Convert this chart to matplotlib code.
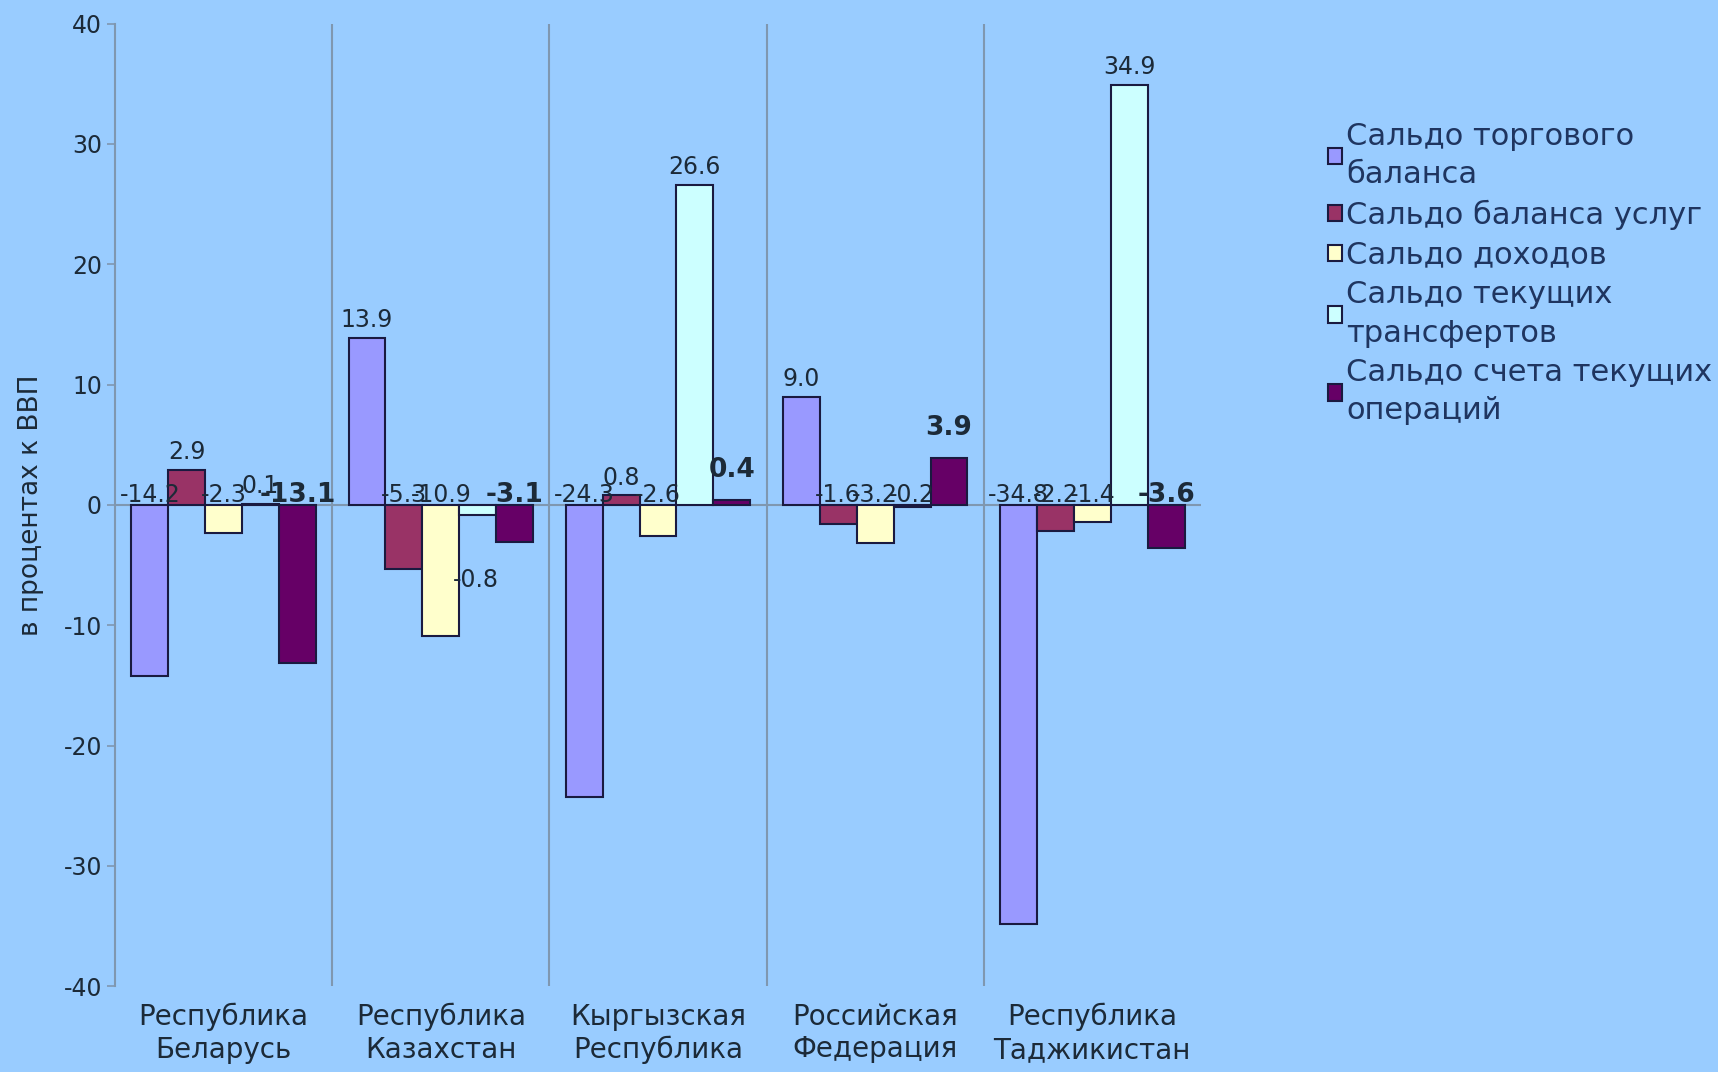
import numpy as np
import matplotlib.pyplot as plt

plt.rcParams['axes.unicode_minus'] = False

# Data
countries = ['Республика\nБеларусь', 'Республика\nКазахстан', 'Кыргызская\nРеспублика',
             'Российская\nФедерация', 'Республика\nТаджикистан']
series_names = ['Сальдо торгового\nбаланса', 'Сальдо баланса услуг', 'Сальдо доходов',
                'Сальдо текущих\nтрансфертов', 'Сальдо счета текущих\nопераций']
trade = [-14.2, 13.9, -24.3, 9.0, -34.8]
services = [2.9, -5.3, 0.8, -1.6, -2.2]
income = [-2.3, -10.9, -2.6, -3.2, -1.4]
transfers = [0.1, -0.8, 26.6, -0.2, 34.9]
current = [-13.1, -3.1, 0.4, 3.9, -3.6]

colors = ['#9999FF', '#993366', '#FFFFCC', '#CCFFFF', '#660066']
bg = '#99CCFF'
txtc = '#1c2a38'

fig = plt.figure(figsize=(17.18, 10.72), dpi=100, facecolor=bg)
ax = fig.add_axes([0.067, 0.080, 0.632, 0.898])
ax.set_facecolor(bg)

x = np.arange(len(countries))
w = 0.17
allvals = [trade, services, income, transfers, current]
handles = []
for k, vals in enumerate(allvals):
    pos = x + (k - 2) * w
    b = ax.bar(pos, vals, w, color=colors[k], edgecolor='#1a1a40', linewidth=1.5,
               label=series_names[k], zorder=3)
    handles.append(b)
    bold = (k == 4)
    fs = 19 if bold else 17
    fw = 'bold' if bold else 'normal'
    for i, (p, v) in enumerate(zip(pos, vals)):
        txt = '%.1f' % v
        if v >= 0:
            ax.annotate(txt, (p, v), xytext=(0, 12 if bold else 4), textcoords='offset points',
                        ha='center', va='bottom', fontsize=fs, fontweight=fw,
                        color=txtc, zorder=5)
        else:
            yl = 0.8
            if k == 3 and i == 1:
                yl = -6.2
                p = p - 0.01
            ax.text(p, yl, txt, ha='center', va='center', fontsize=fs, fontweight=fw,
                    color=txtc, zorder=5)

ax.set_xlim(-0.5, len(countries) - 0.5)
ax.set_ylim(-40, 40)
ax.set_yticks(np.arange(-40, 41, 10))
ax.tick_params(axis='y', labelsize=17, colors='#7f97b0', labelcolor=txtc, length=6, width=1.2)
ax.set_xticks(x)
ax.set_xticklabels(countries, fontsize=20, color=txtc, linespacing=1.2)
ax.tick_params(axis='x', length=0, pad=12)

for s in ['top', 'right', 'bottom']:
    ax.spines[s].set_visible(False)
ax.spines['left'].set_color('#7f97b0')
ax.spines['left'].set_linewidth(1.5)

ax.axhline(0, color='#7f97b0', linewidth=1.5, zorder=2)
for xb in np.arange(0.5, len(countries) - 1, 1.0):
    ax.axvline(xb, color='#7f97b0', linewidth=1.5, zorder=1)

ax.set_ylabel('в процентах к ВВП', fontsize=19, color=txtc, labelpad=14)

leg = fig.legend(handles=handles, loc='upper left', bbox_to_anchor=(0.757, 0.912),
                 frameon=False, fontsize=22, handlelength=0.45, handleheight=0.45,
                 handletextpad=0.15, labelspacing=0.35, labelcolor='#1f3560')
for t in leg.get_texts():
    t.set_linespacing(1.4)
for h in leg.legend_handles:
    h.set_linewidth(1.5)

plt.savefig('out.png', dpi=100, facecolor=bg)
